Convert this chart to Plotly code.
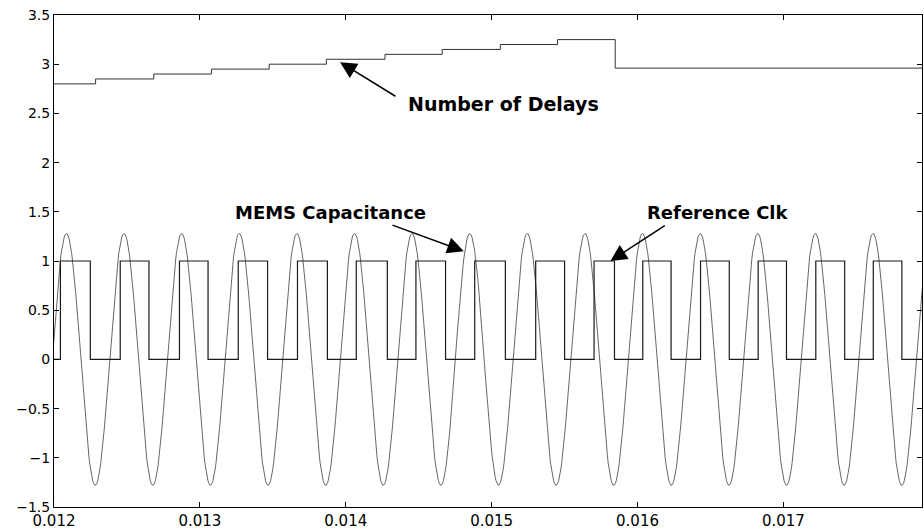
import numpy as np
import plotly.graph_objects as go

# ---------------- data ----------------
# Reference clock: alternating edge times (s); value after each edge
clk_edges = [0.012000, 0.012044, 0.012249, 0.012454, 0.012651, 0.012860, 0.013056,
             0.013263, 0.013464, 0.013669, 0.013874, 0.014072, 0.014285, 0.014481,
             0.014684, 0.014884, 0.015094, 0.015302, 0.015500, 0.015702, 0.015842,
             0.016036, 0.016230, 0.016432, 0.016629, 0.016827, 0.017021, 0.017222,
             0.017420, 0.017616, 0.017812, 0.017950]
clk_levels = [0, 1, 0, 1, 0, 1, 0, 1, 0, 1, 0, 1, 0, 1, 0, 1, 0, 1, 0, 1, 0,
              1, 0, 1, 0, 1, 0, 1, 0, 1, 0, 0]

# MEMS capacitance: times of successive maxima (s) and amplitude
mems_peaks = [0.011690, 0.012085, 0.012480, 0.012875, 0.013270, 0.013665, 0.014060,
              0.014454, 0.014850, 0.015244, 0.015640, 0.016034, 0.016430, 0.016824,
              0.017219, 0.017614, 0.018009]
mems_amp = 1.28

# Number of delays: step times (s) and levels
delay_edges = [0.012000, 0.012285, 0.012684, 0.013079, 0.013475, 0.013867, 0.014269,
               0.014661, 0.015060, 0.015452, 0.015847, 0.017950]
delay_levels = [2.80, 2.85, 2.90, 2.95, 3.00, 3.05, 3.10, 3.15, 3.20, 3.25, 2.96, 2.96]

x_ticks = [0.012, 0.013, 0.014, 0.015, 0.016, 0.017]
x_ticktext = ["0.012", "0.013", "0.014", "0.015", "0.016", "0.017"]
y_ticks = [-1.5, -1, -0.5, 0, 0.5, 1, 1.5, 2, 2.5, 3, 3.5]
y_ticktext = ["\u22121.5", "\u22121", "\u22120.5", "0", "0.5", "1", "1.5", "2", "2.5", "3", "3.5"]

# ---------------- build sinusoid through the read maxima ----------------
mx, my = [], []
for a, b in zip(mems_peaks[:-1], mems_peaks[1:]):
    t = np.linspace(a, b, 80)
    mx.extend(t.tolist())
    my.extend((mems_amp * np.cos(2 * np.pi * (t - a) / (b - a))).tolist())

fig = go.Figure()
fig.add_trace(go.Scatter(x=mx, y=my, mode="lines",
                         line=dict(color="#555555", width=0.9), hoverinfo="skip"))
fig.add_trace(go.Scatter(x=clk_edges, y=clk_levels, mode="lines", line_shape="hv",
                         line=dict(color="#1a1a1a", width=1.2), hoverinfo="skip"))
fig.add_trace(go.Scatter(x=delay_edges, y=delay_levels, mode="lines", line_shape="hv",
                         line=dict(color="#333333", width=1.0), hoverinfo="skip"))

font_b = dict(family="DejaVu Sans", size=18, color="black")
annos = [
    dict(text="<b>Number of Delays</b>", x=0.015080, y=2.60, size=19, tip=(0.013961, 3.02), tail=(0.014351, 2.665)),
    dict(text="<b>MEMS Capacitance</b>", x=0.013893, y=1.49, size=18, tip=(0.014809, 1.10), tail=(0.014310, 1.37)),
    dict(text="<b>Reference Clk</b>", x=0.016553, y=1.49, size=18, tip=(0.015814, 1.0), tail=(0.016197, 1.37)),
]
for a in annos:
    fig.add_annotation(x=a["x"], y=a["y"], xref="x", yref="y", text=a["text"],
                       showarrow=False, font=dict(family="DejaVu Sans", size=a["size"], color="black"),
                       xanchor="center", yanchor="middle")
    fig.add_annotation(x=a["tip"][0], y=a["tip"][1], ax=a["tail"][0], ay=a["tail"][1],
                       xref="x", yref="y", axref="x", ayref="y", text="",
                       showarrow=True, arrowhead=2, arrowsize=2.2, arrowwidth=1.5,
                       arrowcolor="black", standoff=0, startstandoff=0)

axis_common = dict(showgrid=False, zeroline=False, showline=True, linecolor="black",
                   linewidth=1, mirror="ticks", ticks="inside", ticklen=5,
                   tickcolor="black")
fig.update_xaxes(range=[0.012, 0.01795], tickvals=x_ticks, ticktext=x_ticktext,
                 tickfont=dict(family="DejaVu Sans", size=15, color="black"), **axis_common)
fig.update_yaxes(range=[-1.5, 3.5], tickvals=y_ticks, ticktext=y_ticktext,
                 tickfont=dict(family="DejaVu Sans", size=14, color="black"), **axis_common)

fig.update_layout(width=924, height=531, showlegend=False,
                  margin=dict(l=54, r=1, t=15, b=22),
                  paper_bgcolor="white", plot_bgcolor="white")
fig.write_html("out.html")
